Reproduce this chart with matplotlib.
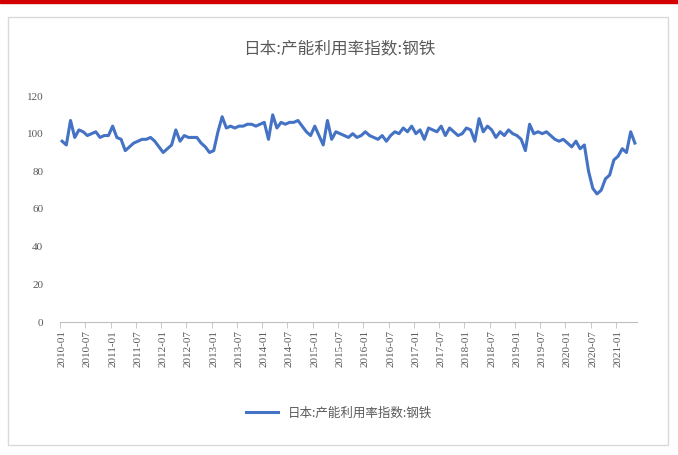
import numpy as np
import matplotlib
matplotlib.use("Agg")
import matplotlib.pyplot as plt
from matplotlib.patches import Rectangle
from matplotlib.ticker import FixedLocator

plt.rcParams['font.family'] = ['Noto Sans CJK SC', 'DejaVu Sans']

# monthly index, 2010-01 .. 2021-05
months = [f"{y}-{m:02d}" for y in range(2010, 2022) for m in range(1, 13)][:137]
values = [96, 94, 107, 98, 102, 101, 99, 100, 101, 98, 99, 99,
          104, 98, 97, 91, 93, 95, 96, 97, 97, 98, 96, 93,
          90, 92, 94, 102, 96, 99, 98, 98, 98, 95, 93, 90,
          91, 101, 109, 103, 104, 103, 104, 104, 105, 105, 104, 105,
          106, 97, 110, 103, 106, 105, 106, 106, 107, 104, 101, 99,
          104, 99, 94, 107, 97, 101, 100, 99, 98, 100, 98, 99,
          101, 99, 98, 97, 99, 96, 99, 101, 100, 103, 101, 104,
          100, 102, 97, 103, 102, 101, 104, 99, 103, 101, 99, 100,
          103, 102, 96, 108, 101, 104, 102, 98, 101, 99, 102, 100,
          99, 97, 91, 105, 100, 101, 100, 101, 99, 97, 96, 97,
          95, 93, 96, 92, 94, 80, 71, 68, 70, 76, 78, 86,
          88, 92, 90, 101, 95]
label_idx = list(range(0, len(months), 6))
labels = [months[i] for i in label_idx]
series_name = "日本:产能利用率指数:钢铁"

fig = plt.figure(figsize=(6.78, 4.55), dpi=100)

# red band at the top and the chart frame
fig.patches.append(Rectangle((0, 1 - 3 / 455), 1, 3 / 455, transform=fig.transFigure,
                             color="#d40000", zorder=0))
fig.patches.append(Rectangle((8 / 678, 10 / 455), 660 / 678, 428 / 455,
                             transform=fig.transFigure, fill=False,
                             edgecolor="#d9d9d9", linewidth=1.0, zorder=0))

ax = fig.add_axes([60 / 678, 1 - 322 / 455, 577 / 678, 226 / 455])
x = np.arange(len(values))
ax.plot(x, values, color="#4472c4", linewidth=2.2, label=series_name)

ax.set_xlim(-0.5, len(values) - 0.5)
ax.set_ylim(0, 120)
ax.set_yticks(range(0, 121, 20))
ax.set_xticks(label_idx)
ax.set_xticklabels(labels, rotation=90, fontsize=8, color="#595959",
                   family=["Liberation Serif"])
ax.xaxis.set_minor_locator(FixedLocator(np.arange(-0.5, len(values), 6)))
ax.tick_params(axis="x", which="major", length=0, pad=6)
ax.tick_params(axis="x", which="minor", length=4, color="#bfbfbf", direction="out")
ax.tick_params(axis="y", length=0, pad=12, labelsize=8, labelcolor="#595959")
for t in ax.get_yticklabels():
    t.set_family(["Liberation Serif"])

for side in ["top", "right", "left"]:
    ax.spines[side].set_visible(False)
ax.spines["bottom"].set_color("#bfbfbf")

fig.text(0.5, 1 - 49 / 455, series_name, ha="center", va="center",
         fontsize=12, color="#595959")

fig.legend(loc="center", bbox_to_anchor=(0.5, 1 - 413 / 455), frameon=False,
           fontsize=9, labelcolor="#595959", handlelength=2.5)

fig.savefig("out.png", dpi=100)
